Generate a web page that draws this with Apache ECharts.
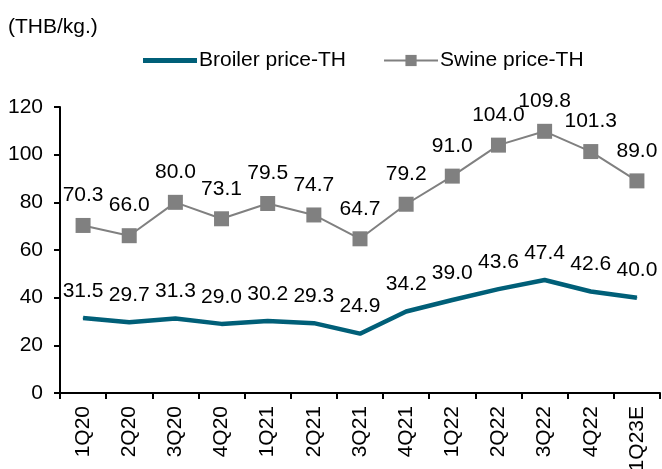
<!DOCTYPE html>
<html>
<head>
<meta charset="utf-8">
<script src="https://cdn.jsdelivr.net/npm/echarts@6/dist/echarts.min.js"></script>
<style>
  html, body { margin: 0; padding: 0; background: #fff; }
  #chart { width: 662px; height: 469px; }
</style>
</head>
<body>
<div id="chart"></div>
<script>
const quarters = ['1Q20', '2Q20', '3Q20', '4Q20', '1Q21', '2Q21', '3Q21', '4Q21', '1Q22', '2Q22', '3Q22', '4Q22', '1Q23E'];
const broiler = [31.5, 29.7, 31.3, 29.0, 30.2, 29.3, 24.9, 34.2, 39.0, 43.6, 47.4, 42.6, 40.0];
const swine = [70.3, 66.0, 80.0, 73.1, 79.5, 74.7, 64.7, 79.2, 91.0, 104.0, 109.8, 101.3, 89.0];

const font = '"Liberation Sans", Arial, sans-serif';
const fs = 21;
const chart = echarts.init(document.getElementById('chart'));

chart.setOption({
    animation: false,
    backgroundColor: '#fff',
    title: {
        text: '(THB/kg.)',
        left: 3,
        top: 12,
        textStyle: { fontFamily: font, fontSize: fs, fontWeight: 'normal', color: '#000' }
    },
    legend: {
        top: 45,
        left: 138,
        itemGap: 37,
        itemWidth: 54,
        itemHeight: 14,
        textStyle: { fontFamily: font, fontSize: fs, color: '#000', padding: [0, 0, 0, -3] },
        data: [
            { name: 'Broiler price-TH', icon: 'path://M0,0H54V5H0Z' },
            { name: 'Swine price-TH' }
        ]
    },
    grid: { left: 60, right: 2, top: 107, bottom: 76, outerBoundsMode: 'none' },
    xAxis: {
        type: 'category',
        data: quarters,
        boundaryGap: true,
        axisLine: { lineStyle: { color: '#000', width: 2 } },
        axisTick: { show: true, length: 6, lineStyle: { color: '#000', width: 2 } },
        axisLabel: { rotate: 90, margin: 13, fontFamily: font, fontSize: fs, color: '#000' }
    },
    yAxis: {
        type: 'value',
        min: 0,
        max: 120,
        interval: 20,
        axisLine: { show: true, lineStyle: { color: '#000', width: 2 } },
        axisTick: { show: true, length: 6, lineStyle: { color: '#000', width: 2 } },
        splitLine: { show: false },
        axisLabel: { margin: 17, fontFamily: font, fontSize: fs, color: '#000' }
    },
    series: [
        {
            name: 'Broiler price-TH',
            type: 'line',
            data: broiler,
            symbol: 'circle',
            symbolSize: 1,
            color: '#005F78',
            itemStyle: { color: '#005F78' },
            lineStyle: { width: 4.5, color: '#005F78' },
            label: {
                show: true,
                position: 'top',
                distance: 16,
                formatter: p => p.value.toFixed(1),
                fontFamily: font, fontSize: fs, color: '#000'
            }
        },
        {
            name: 'Swine price-TH',
            type: 'line',
            data: swine,
            symbol: 'rect',
            symbolSize: 15,
            color: '#808080',
            itemStyle: { color: '#808080' },
            lineStyle: { width: 2, color: '#808080' },
            label: {
                show: true,
                position: 'top',
                distance: 12,
                formatter: p => p.value.toFixed(1),
                fontFamily: font, fontSize: fs, color: '#000'
            }
        }
    ]
});
</script>
</body>
</html>
